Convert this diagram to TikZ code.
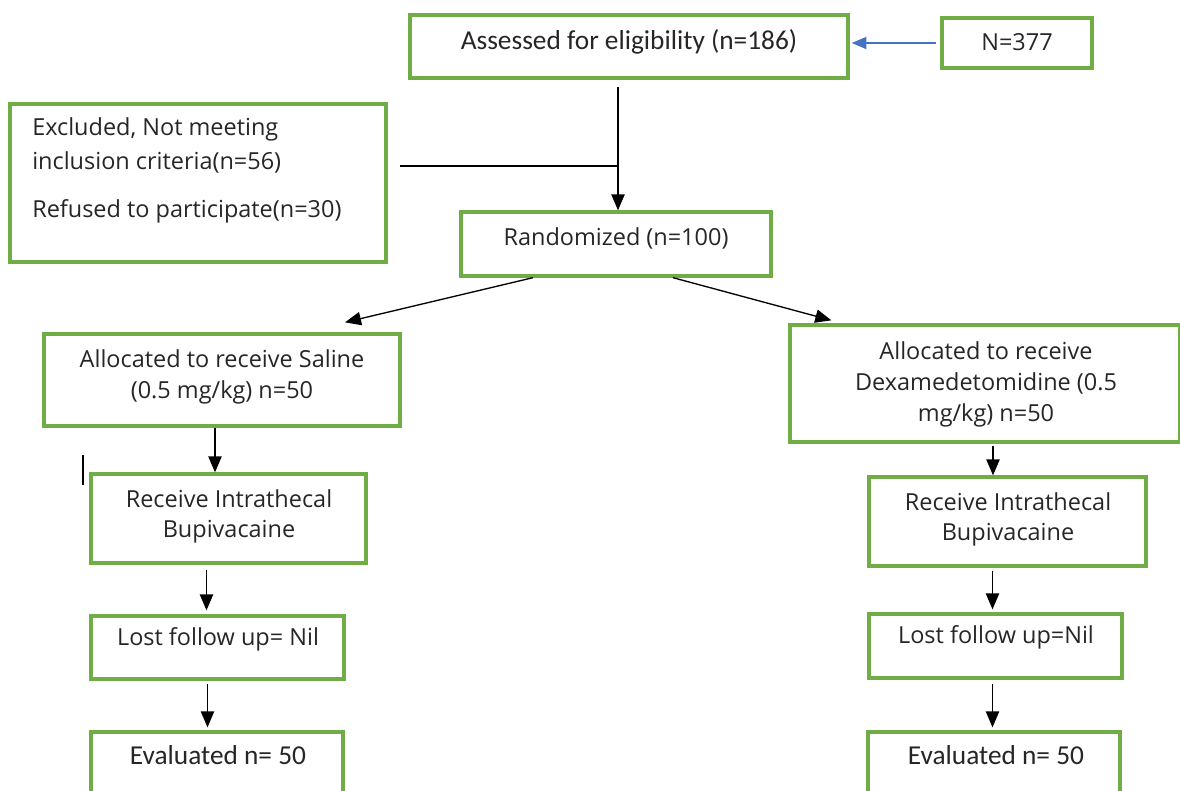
\documentclass[tikz,border=0pt]{standalone}
\usepackage{fontspec}
\setmainfont{Open Sans}
\newfontfamily\condfont{Carlito}
\usetikzlibrary{arrows.meta,fit}
\definecolor{boxgreen}{RGB}{112,173,71}
\definecolor{arrblue}{RGB}{68,114,196}
\tikzset{
  box/.style={draw=boxgreen, line width=2.5pt, inner sep=0pt, fill=white},
  txt/.style={font=\fontsize{17.6}{20}\selectfont, inner sep=0pt, text=black!85},
  ctxt/.style={font=\condfont\fontsize{20.5}{23}\selectfont, inner sep=0pt, text=black!85},
  arr/.style={line width=1pt, -{Triangle[length=12pt,width=10pt]}},
  plain/.style={line width=1pt},
  barr/.style={draw=arrblue, line width=1pt, -{Triangle[length=11pt,width=9pt]}}
}
\begin{document}
\begin{tikzpicture}[x=0.75pt,y=-0.75pt]
\useasboundingbox (0,0) rectangle (1180,790);
\begin{scope}
\clip (0,0) rectangle (1180,790);
% boxes
\node[box, fit={(410,15) (848,78)}] (assess) {};
\node[box, fit={(942,18) (1092,68)}] (total) {};
\node[box, fit={(10,104) (386,262)}] (excl) {};
\node[box, fit={(461,212) (771,276)}] (rand) {};
\node[box, fit={(44,334) (400,426)}] (sal) {};
\node[box, fit={(790,325) (1180,442)}] (dex) {};
\node[box, fit={(91,474) (366,563)}] (recL) {};
\node[box, fit={(869,477) (1146,566)}] (recR) {};
\node[box, fit={(91,616) (344,679)}] (lostL) {};
\node[box, fit={(869,614) (1122,678)}] (lostR) {};
\node[box, fit={(91,732) (343,820)}] (evalL) {};
\node[box, fit={(868,732) (1120,820)}] (evalR) {};
\end{scope}
% texts
\node[ctxt] (t1) at (629,42) {Assessed for eligibility (n=186)};
\node[txt] (t2) at (1017,42) {N=377};
\node[txt, anchor=west] (t3) at (32,129) {Excluded, Not meeting};
\node[txt, anchor=west] (t4) at (32,162) {inclusion criteria(n=56)};
\node[txt, anchor=west] (t5) at (32,211) {Refused to participate(n=30)};
\node[txt] (t6) at (616,238) {Randomized (n=100)};
\node[txt] (t7) at (222,359) {Allocated to receive Saline};
\node[txt] (t8) at (222,392) {(0.5 mg/kg) n=50};
\node[txt] (t9) at (986,351) {Allocated to receive};
\node[txt] (t10) at (986,383) {Dexamedetomidine (0.5};
\node[txt] (t11) at (986,415) {mg/kg) n=50};
\node[txt] (t12) at (229,499) {Receive Intrathecal};
\node[txt] (t13) at (229,532) {Bupivacaine};
\node[txt] (t14) at (1008,502) {Receive Intrathecal};
\node[txt] (t15) at (1008,535) {Bupivacaine};
\node[txt] (t16) at (218,639) {Lost follow up= Nil};
\node[txt] (t17) at (996,637) {Lost follow up=Nil};
\node[ctxt] (t18) at (218,755) {Evaluated n= 50};
\node[ctxt] (t19) at (996,755) {Evaluated n= 50};
% connectors
\coordinate (c1) at (618,87);
\coordinate (j1) at (618,166);
\coordinate (c2) at (400,166);
\coordinate (stray1) at (83,455);
\coordinate (stray2) at (83,485);
\draw[barr] ([shift={(-4,0)}]total.west) -- ([shift={(2,0)}]assess.east |- total.west);
\draw[arr] (c1) -- (c1 |- rand.north);
\draw[plain] (c2) -- (j1);
\draw[plain] (stray1) -- (stray2);
\draw[arr] ([shift={(-83,0)}]rand.south) -- ([shift={(-10,-10)}]sal.north -| {(355,0)});
\draw[arr] ([shift={(57,0)}]rand.south) -- ([shift={(43,-3)}]dex.north west);
\draw[arr] ([shift={(-7,0)}]sal.south) -- ([shift={(-7,0)}]sal.south |- recL.north);
\draw[arr] ([shift={(8,2)}]dex.south) -- ([shift={(8,0)}]dex.south |- recR.north);
\draw[arr] ([shift={(-22,5)}]recL.south) -- ([shift={(-22,-4)}]recL.south |- lostL.north);
\draw[arr] ([shift={(-15,3)}]recR.south) -- ([shift={(-15,-3)}]recR.south |- lostR.north);
\draw[arr] ([shift={(-10,3)}]lostL.south) -- ([shift={(-10,-3)}]lostL.south |- evalL.north);
\draw[arr] ([shift={(-3,4)}]lostR.south) -- ([shift={(-3,-3)}]lostR.south |- evalR.north);
\end{tikzpicture}
\end{document}
